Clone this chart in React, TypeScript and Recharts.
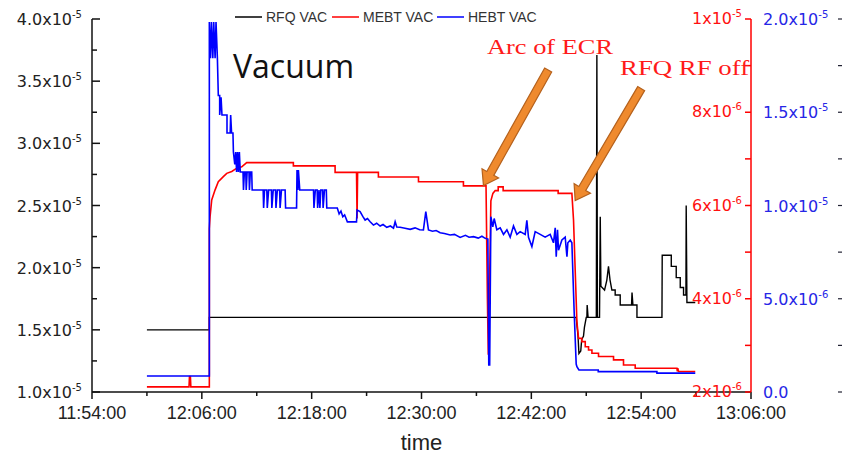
import React from "react";
import { Line, LineChart, ReferenceLine, XAxis, YAxis } from "recharts";

// time = minutes after 11:54:00
const rfqTime = [
  6, 12.82, 12.82, 52.9, 53.1, 53.2, 53.4, 53.5, 53.7, 53.8, 54.0, 54.07, 54.1, 54.2, 55.1, 55.16, 55.22,
  55.45, 55.53, 55.6, 56.0, 56.25, 56.43, 56.6, 56.8, 57.16, 57.16, 57.71, 57.71, 58.95, 59.0, 59.1, 59.54,
  59.54, 62.27, 62.3, 63.29, 63.29, 63.83, 63.83, 64.27, 64.27, 64.63, 64.63, 64.89, 64.92, 65.0, 65.91,
];
// x1e-5
const rfqVac = [
  1.5, 1.5, 1.6, 1.6, 1.45, 1.31, 1.33, 1.42, 1.45, 1.52, 1.6, 1.6, 1.7, 1.6, 1.6, 3.71, 1.6,
  1.6, 2.41, 1.85, 1.82, 1.9, 2.01, 1.9, 1.82, 1.82, 1.78, 1.78, 1.7, 1.7, 1.8, 1.7, 1.7,
  1.6, 1.6, 2.1, 2.1, 2.01, 2.01, 1.92, 1.92, 1.84, 1.84, 1.78, 1.78, 2.5, 1.72, 1.72,
];

const mebtTime = [
  6, 10.6, 10.65, 10.75, 10.8, 12.82, 12.82, 12.9, 13.08, 13.44, 13.8, 14.35, 14.72, 15.27, 15.82, 16.36,
  16.9, 22.0, 22.0, 26.56, 26.56, 28.9, 28.96, 29.02, 31.29, 31.29, 35.67, 35.67, 40.58, 40.58, 43.05,
  43.2, 43.3, 43.45, 43.58, 43.8, 44.05, 44.38, 44.38, 44.92, 44.92, 50.93, 50.93, 52.43, 52.61, 52.79,
  52.98, 53.16, 53.52, 53.52, 53.89, 53.89, 54.25, 54.25, 54.62, 54.62, 55.34, 55.34, 56.98, 56.98,
  58.07, 58.07, 59.35, 59.35, 63.91, 63.95, 64.0, 64.08, 65.91,
];
// x1e-6
const mebtVac = [
  2.11, 2.11, 2.33, 2.33, 2.11, 2.11, 5.5, 5.76, 6.12, 6.33, 6.51, 6.62, 6.69, 6.73, 6.8, 6.83,
  6.92, 6.92, 6.85, 6.85, 6.71, 6.71, 5.72, 6.71, 6.71, 6.61, 6.61, 6.51, 6.51, 6.42, 6.42,
  4.0, 2.8, 4.5, 6.1, 6.26, 6.32, 6.32, 6.4, 6.4, 6.32, 6.32, 6.26, 6.26, 5.69, 4.62,
  3.5, 3.15, 3.15, 3.08, 3.08, 2.97, 2.97, 2.9, 2.9, 2.83, 2.83, 2.76, 2.76, 2.69,
  2.69, 2.58, 2.58, 2.51, 2.51, 2.44, 2.51, 2.44, 2.44,
];

const hebtTime = [
  6, 12.82, 12.82, 12.95, 13.05, 13.2, 13.3, 13.45, 13.55, 13.7, 13.8, 13.95, 13.95, 14.1, 14.2, 14.75,
  14.75, 15.1, 15.15, 15.25, 15.4, 15.45, 15.6, 15.7, 15.8, 15.9, 16.0, 16.1, 16.2, 16.5, 16.55, 16.65,
  16.8, 16.85, 16.95, 17.15, 17.2, 17.3, 17.45, 17.5, 18.7, 18.75, 18.85, 19.1, 19.15, 19.3, 19.6, 19.65,
  19.8, 20.05, 20.1, 20.25, 20.5, 20.55, 20.7, 21.1, 21.15, 22.35, 22.4, 22.5, 22.55, 22.7, 24.2, 24.25,
  24.4, 24.6, 24.65, 24.8, 24.9, 25.0, 25.2, 25.25, 25.4, 25.6, 25.65, 26.8, 27.0, 27.2, 27.4, 27.6,
  27.9, 28.9, 28.96, 29.29, 29.6, 29.84, 30.1, 30.39, 30.75, 31.1, 31.48, 31.8, 32.21, 32.6, 32.94, 33.12,
  33.3, 33.66, 34.2, 34.76, 35.3, 35.8, 36.21, 36.47, 36.76, 37.2, 37.6, 38.04, 38.5, 39.13, 39.6, 40.22,
  40.8, 41.2, 41.68, 42.2, 42.6, 42.96, 43.25, 43.35, 43.45, 43.58, 43.79, 43.94, 44.23, 44.6, 44.96,
  45.33, 45.69, 46.05, 46.42, 46.78, 47.33, 47.51, 47.69, 48.06, 48.42, 48.97, 49.51, 50.06, 50.42,
  50.61, 50.72, 50.86, 50.97, 51.34, 51.7, 51.89, 51.99, 52.25, 52.43, 52.68, 52.9, 52.98, 53.2, 53.5,
  55.31, 55.31, 61.72, 61.72, 65.91,
];
// x1e-6
const hebtVac = [
  0.86, 0.86, 19.84, 17.9, 19.84, 17.9, 19.84, 17.9, 19.84, 17.9, 15.9, 15.9, 14.85, 15.8, 14.85, 14.85,
  13.89, 13.89, 14.85, 13.89, 13.89, 12.87, 12.2, 12.87, 11.8, 12.87, 11.8, 12.87, 11.8, 11.8, 10.83, 11.8,
  11.8, 10.83, 11.8, 11.8, 10.83, 11.8, 11.8, 10.83, 10.83, 9.87, 10.83, 10.83, 9.87, 10.83, 10.83, 9.87,
  10.83, 10.83, 9.87, 10.83, 10.83, 9.87, 10.83, 10.83, 9.87, 9.87, 11.9, 10.83, 11.9, 10.83, 10.83, 9.87,
  10.83, 10.83, 9.87, 10.83, 9.87, 10.83, 10.83, 9.87, 10.83, 10.83, 9.87, 9.87, 9.55, 9.7, 9.4, 9.5,
  9.12, 9.12, 9.76, 9.67, 9.4, 9.22, 9.3, 9.13, 8.95, 9.05, 8.9, 8.98, 8.83, 8.9, 8.78, 9.13,
  8.85, 8.83, 8.78, 8.72, 8.8, 8.7, 8.69, 9.67, 8.69, 8.62, 8.66, 8.54, 8.5, 8.42, 8.45, 8.29,
  8.4, 8.3, 8.33, 8.25, 8.35, 8.24, 8.2, 1.45, 1.45, 9.4, 8.86, 9.3, 8.7, 8.8, 8.45,
  8.7, 8.3, 8.9, 8.45, 8.6, 8.45, 9.2, 8.3, 7.8, 8.6, 8.45, 8.3, 8.45, 8.0,
  8.8, 7.25, 8.7, 7.6, 8.15, 8.3, 7.25, 8.0, 8.15, 8.0, 4.3, 1.5, 1.36, 1.18, 1.18,
  1.18, 1.09, 1.09, 1.01, 1.01,
];

const timeTicks = [0, 6, 12, 18, 24, 30, 36, 42, 48, 54, 60, 66, 72];
const rfqTicks = [1.0, 1.25, 1.5, 1.75, 2.0, 2.25, 2.5, 2.75, 3.0, 3.25, 3.5, 3.75, 4.0]; // x1e-5
const mebtTicks = [2, 3, 4, 5, 6, 7, 8, 9, 10]; // x1e-6
const hebtTicks = [0, 2.5, 5, 7.5, 10, 12.5, 15, 17.5, 20]; // x1e-6

// annotation arrows: [tail, tip] as [minutes, RFQ x1e-5]
const arcArrow = [[49.84, 3.59], [42.77, 2.66]];
const rfOffArrow = [[60.0, 3.44], [52.79, 2.54]];

const rows = (t: number[], v: number[], unit: number) => t.map((x, i) => ({ t: x, v: v[i] * unit }));
const rfqData = rows(rfqTime, rfqVac, 1e-5);
const mebtData = rows(mebtTime, mebtVac, 1e-6);
const hebtData = rows(hebtTime, hebtVac, 1e-6);

const sci = (v: number, digits: number) => {
  if (Math.abs(v) < 1e-15) return { m: (0).toFixed(digits), e: null as number | null };
  const e = Math.floor(Math.log10(v) + 1e-9);
  return { m: (v / Math.pow(10, e)).toFixed(digits), e };
};

const clock = (t: number) => {
  const total = 11 * 60 + 54 + t;
  const h = Math.floor(total / 60);
  const m = Math.round(total % 60);
  return `${h}:${String(m).padStart(2, "0")}:00`;
};

const TICK_FONT = "DejaVu Sans, sans-serif";

const TimeTick = (p: any) => {
  const { x, y, payload, index } = p;
  const major = index % 2 === 0;
  return (
    <g>
      <line x1={x} x2={x} y1={y} y2={y + (major ? 7 : 4)} stroke="#111" strokeWidth={1.5} />
      {major && (
        <text x={x} y={y + 27} textAnchor="middle" fontFamily="Liberation Sans, Arial" fontSize={18} fill="#222">
          {clock(payload.value)}
        </text>
      )}
    </g>
  );
};

const RfqTick = (p: any) => {
  const { x, y, payload, index } = p;
  const major = index % 2 === 0;
  const f = sci(payload.value, 1);
  return (
    <g>
      <line x1={x} x2={x + (major ? 8 : 5)} y1={y} y2={y} stroke="#111" strokeWidth={1.5} />
      {major && (
        <text x={x - 10} y={y + 6} textAnchor="end" fontFamily={TICK_FONT} fontSize={16} fill="#222">
          {f.m}x10<tspan dy={-7} fontSize={10}>{f.e}</tspan>
        </text>
      )}
    </g>
  );
};

// red axis is mirrored: x is the axis line, labels sit inside the plot
const MebtTick = (p: any) => {
  const { x, y, payload, index } = p;
  const major = index % 2 === 0;
  const f = sci(payload.value, 0);
  return (
    <g>
      <line x1={x - 6} x2={x} y1={y} y2={y} stroke="#ff0000" strokeWidth={1.5} />
      {major && (
        <text x={x - 9} y={y + 5} textAnchor="end" fontFamily={TICK_FONT} fontSize={16} fill="#ff1010">
          {f.m}x10<tspan dy={-7} fontSize={10}>{f.e}</tspan>
        </text>
      )}
    </g>
  );
};

const HebtTick = (p: any) => {
  const { x, y, payload, index } = p;
  const major = index % 2 === 0;
  const f = sci(payload.value, 1);
  return (
    <g>
      <line x1={x + 87} x2={x + 94} y1={y} y2={y} stroke="#223" strokeWidth={1.2} />
      {major && (
        <text x={x + 12} y={y + 6} textAnchor="start" fontFamily={TICK_FONT} fontSize={16} fill="#2626e6">
          {f.m}
          {f.e !== null && (
            <>
              x10<tspan dy={-7} fontSize={10}>{f.e}</tspan>
            </>
          )}
        </text>
      )}
    </g>
  );
};

const Arrow = (p: any) => {
  const { x1, y1, x2, y2 } = p;
  const len = Math.hypot(x2 - x1, y2 - y1) || 1;
  const dx = (x2 - x1) / len;
  const dy = (y2 - y1) / len;
  const nx = -dy;
  const ny = dx;
  const sw = 4;
  const hw = 9.5;
  const hl = 14;
  const bx = x2 - dx * hl;
  const by = y2 - dy * hl;
  const pts = [
    [x1 + nx * sw, y1 + ny * sw],
    [bx + nx * sw, by + ny * sw],
    [bx + nx * hw, by + ny * hw],
    [x2, y2],
    [bx - nx * hw, by - ny * hw],
    [bx - nx * sw, by - ny * sw],
    [x1 - nx * sw, y1 - ny * sw],
  ];
  return (
    <polygon
      points={pts.map((q) => q.join(",")).join(" ")}
      fill="#ef8a2e"
      stroke="#b5611c"
      strokeWidth={1.2}
    />
  );
};

const legendItems = [
  { name: "RFQ VAC", color: "#000000" },
  { name: "MEBT VAC", color: "#ff0000" },
  { name: "HEBT VAC", color: "#0000ff" },
];
const legendStarts = [235, 332, 437];

export default function App() {
  return (
    <div style={{ position: "fixed", left: 0, top: 0, width: 842, height: 455, overflow: "hidden", background: "#fff" }}>
      <LineChart width={870} height={455} margin={{ top: 19, right: 17, bottom: 22, left: 0 }}>
        <XAxis
          dataKey="t"
          type="number"
          domain={[0, 72]}
          ticks={timeTicks}
          interval={0}
          tickSize={0}
          tickMargin={0}
          tickLine={false}
          tick={<TimeTick />}
          height={41}
          axisLine={{ stroke: "#111", strokeWidth: 1.5 }}
          label={{ value: "time", position: "bottom", offset: 1, fontSize: 22, fill: "#222", fontFamily: "Liberation Sans, Arial" }}
        />
        <YAxis
          yAxisId="rfq"
          orientation="left"
          type="number"
          domain={[1e-5, 4e-5]}
          ticks={rfqTicks.map((v) => v * 1e-5)}
          interval={0}
          width={92}
          tickSize={0}
          tickMargin={0}
          tickLine={false}
          tick={<RfqTick />}
          axisLine={{ stroke: "#111", strokeWidth: 1.5 }}
        />
        <YAxis
          yAxisId="mebt"
          orientation="right"
          mirror
          type="number"
          domain={[2e-6, 1e-5]}
          ticks={mebtTicks.map((v) => v * 1e-6)}
          interval={0}
          width={60}
          tickSize={0}
          tickMargin={0}
          tickLine={false}
          tick={<MebtTick />}
          axisLine={{ stroke: "#ff0000", strokeWidth: 1.5 }}
        />
        <YAxis
          yAxisId="hebt"
          orientation="right"
          type="number"
          domain={[0, 2e-5]}
          ticks={hebtTicks.map((v) => v * 1e-6)}
          interval={0}
          width={102}
          tickSize={0}
          tickMargin={0}
          tickLine={false}
          tick={<HebtTick />}
          axisLine={false}
        />
        <Line yAxisId="rfq" data={rfqData} dataKey="v" name="RFQ VAC" type="linear" stroke="#000000" strokeWidth={1.4} dot={false} isAnimationActive={false} />
        <Line yAxisId="mebt" data={mebtData} dataKey="v" name="MEBT VAC" type="linear" stroke="#ff0000" strokeWidth={1.6} dot={false} isAnimationActive={false} />
        <Line yAxisId="hebt" data={hebtData} dataKey="v" name="HEBT VAC" type="linear" stroke="#0000ff" strokeWidth={1.6} dot={false} isAnimationActive={false} />
        <ReferenceLine
          yAxisId="rfq"
          ifOverflow="visible"
          segment={arcArrow.map(([t, v]) => ({ x: t, y: v * 1e-5 }))}
          shape={Arrow}
        />
        <ReferenceLine
          yAxisId="rfq"
          ifOverflow="visible"
          segment={rfOffArrow.map(([t, v]) => ({ x: t, y: v * 1e-5 }))}
          shape={Arrow}
        />
      </LineChart>
      <svg width={842} height={455} style={{ position: "absolute", left: 0, top: 0, pointerEvents: "none" }}>
        {legendItems.map((it, i) => {
          const x0 = legendStarts[i];
          return (
            <g key={it.name}>
              <line x1={x0} x2={x0 + 27} y1={17} y2={17} stroke={it.color} strokeWidth={1.5} />
              <text x={x0 + 31} y={22} fontFamily="Liberation Sans, Arial" fontSize={14} fill="#333">
                {it.name}
              </text>
            </g>
          );
        })}
        <text x={233} y={78} fontFamily="Open Sans, Noto Sans, sans-serif" fontSize={32} fill="#111">
          Vacuum
        </text>
        <text transform="translate(487,54) scale(1.2,1)" fontFamily="Liberation Serif, Times New Roman, serif" fontSize={22} fill="#ff1a1a">
          Arc of ECR
        </text>
        <text transform="translate(620,75) scale(1.22,1)" fontFamily="Liberation Serif, Times New Roman, serif" fontSize={22} fill="#ff1a1a">
          RFQ RF off
        </text>
      </svg>
    </div>
  );
}
